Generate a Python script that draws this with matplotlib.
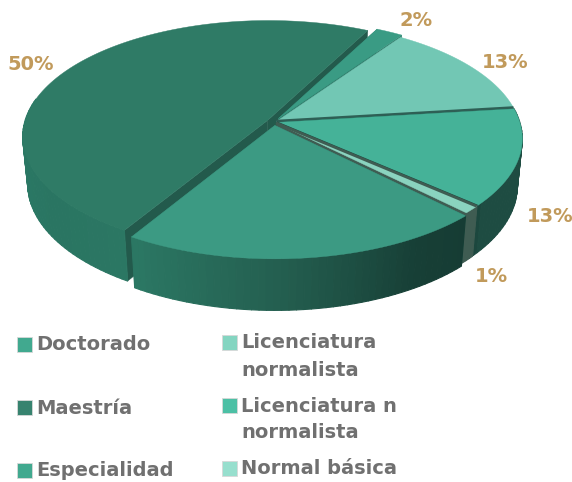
import numpy as np
import matplotlib
matplotlib.use("Agg")
import matplotlib.pyplot as plt
from matplotlib.patches import Rectangle, Polygon
from matplotlib.collections import PolyCollection
from matplotlib.colors import to_rgb
from matplotlib.transforms import Bbox

# ---- data ----
categories = ["Doctorado", "Maestría", "Especialidad", "Licenciatura\nnormalista",
              "Licenciatura no\nnormalista", "Normal básica"]
values = [2, 50, 21, 1, 13, 13]
value_labels = ["2%", "50%", "", "1%", "13%", "13%"]

# ---- style ----
top_colors = ["#3a9b84", "#2f7b66", "#3c9a83", "#8ad3bf", "#45b298", "#72c7b4"]
legend_colors = ["#41a98f", "#37836f", "#41a98f", "#84d5c1", "#4cc0a5", "#97dfce"]
cut_colors = ["#2c7a68", "#235a4c", "#2b7260", "#3f5c52", "#1c4a40", "#2e5f55"]
explode = [0.035, 0.03, 0.03, 0.012, 0.012, 0.012]
edge_lines = {5: ("start", "#2e5f55", 2.2), 4: ("start", "#1c4a40", 1.4), 3: ("start", "#3f5c52", 2.0)}
label_pos = [(416, 20), (31, 65), None, (491, 277), (550, 217), (505, 62)]
legend_pos = [(17, 344), (17, 407), (17, 470), (222, 342), (222, 405), (222, 468)]
START = 53.5
TILT = 2.2
CX, CY, A, B, K, H, M = 274, 122, 243, 114, 0.138, 48, 0.02


def tilt(deg):
    """Viewing tilt of the 3-D pie: the apparent angle differs slightly from the true one."""
    return deg + TILT * np.sin(np.radians(deg))


def project(u, v, d=0.0):
    w = 1 + K * v + M * d
    return CX + A * u / w, CY + (-B * v + H * d) / w


def wall_color(deg, idx):
    """Side shading runs from mid green on the left to very dark on the right."""
    a = deg % 360
    stops = [(180, "#2b7a66"), (215, "#2a7562"), (240, "#2b7763"), (270, "#245f50"),
             (300, "#173f36"), (315, "#163c34"), (320, "#1e4c42"), (360, "#1e4c42")]
    xs = [s[0] for s in stops]
    a = 360 if a < 90 else max(a, 180)
    return [np.interp(a, xs, [to_rgb(s[1])[c] for s in stops]) for c in range(3)]


fig = plt.figure(figsize=(5.72, 4.82), dpi=100)
ax = fig.add_axes([0, 0, 1, 1])
ax.set_xlim(0, 572)
ax.set_ylim(482, 0)
ax.axis("off")

# slice extents from the values
fractions = np.array(values, dtype=float) / sum(values) * 360
starts = START + np.concatenate([[0], np.cumsum(fractions)[:-1]])
ends = starts + fractions

draw_order = [1, 0, 5, 4, 3, 2]
for z, i in enumerate(draw_order):
    t0, t1 = tilt(starts[i]), tilt(ends[i])
    mid = np.radians((t0 + t1) / 2)
    ou, ov = explode[i] * np.cos(mid), explode[i] * np.sin(mid)
    degs = np.linspace(t0, t1, max(4, int((t1 - t0) / 1.5)))
    us = ou + np.cos(np.radians(degs))
    vs = ov + np.sin(np.radians(degs))
    zo = 2 + z
    # cut faces that look towards the viewer
    for deg in (t0, t1):
        col = cut_colors[i]
        eu, ev = ou + np.cos(np.radians(deg)), ov + np.sin(np.radians(deg))
        quad = [project(ou, ov), project(eu, ev), project(eu, ev, 1), project(ou, ov, 1)]
        ax.add_patch(Polygon(quad, closed=True, fc=col, ec=col, lw=0.3, zorder=zo))
    # outer wall
    quads, cols = [], []
    for j in range(len(degs) - 1):
        if np.sin(np.radians(degs[j])) > 0.12 and np.cos(np.radians(degs[j])) > -0.98 \
                and np.sin(np.radians(degs[j + 1])) > 0.12:
            continue
        quads.append([project(us[j], vs[j]), project(us[j + 1], vs[j + 1]),
                      project(us[j + 1], vs[j + 1], 1), project(us[j], vs[j], 1)])
        cols.append(to_rgb(cut_colors[3]) if i == 3 else wall_color(degs[j], i))
    if quads:
        ax.add_collection(PolyCollection(quads, facecolors=cols, edgecolors=cols,
                                         linewidths=0.8, zorder=zo))
    # top surface
    xs, ys = project(us, vs)
    cx0, cy0 = project(ou, ov)
    ax.add_patch(Polygon(np.column_stack([np.r_[cx0, xs], np.r_[cy0, ys]]), closed=True,
                         fc=top_colors[i], ec=top_colors[i], lw=0.3, zorder=zo + 0.5))
    # thin dark cut edge separating neighbouring slices
    if i in edge_lines:
        _, col, lw = edge_lines[i]
        edge_deg = t1 if i == 3 else t0
        ex, ey = project(ou + np.cos(np.radians(edge_deg)), ov + np.sin(np.radians(edge_deg)))
        ax.plot([cx0, ex], [cy0, ey], color=col, lw=lw, solid_capstyle="butt", zorder=zo + 0.7)

# value labels
for txt, pos in zip(value_labels, label_pos):
    if txt:
        ax.text(pos[0], pos[1], txt, color="#c19a5b", fontsize=14, fontweight="bold",
                family="DejaVu Sans", ha="center", va="center", zorder=30)

# legend
clip_px = Bbox([[0, 0], [397, 482]])
for name, col, (x, y) in zip(categories, legend_colors, legend_pos):
    ax.add_patch(Rectangle((x, y - 7), 15, 15, fc=col, ec="#d8d8d8", lw=0.6, zorder=30))
    for k, line in enumerate(name.split("\n")):
        t = ax.text(x + 19, y + 1 + k * 27, line, color="#707070", fontsize=14, fontweight="bold",
                    family="DejaVu Sans", ha="left", va="center", zorder=30)
        t.set_clip_box(clip_px)
        t.set_clip_on(True)

fig.savefig("out.png", dpi=100, facecolor="white")
